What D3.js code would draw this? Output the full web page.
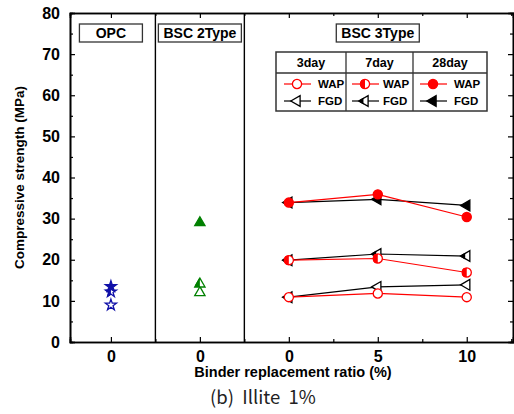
<!DOCTYPE html>
<html>
<head>
<meta charset="utf-8">
<script src="https://cdn.jsdelivr.net/npm/d3@7"></script>
<style>
  html, body { margin: 0; padding: 0; background: #fff; }
  svg { display: block; }
  text { font-family: "Liberation Sans", Arial, sans-serif; }
</style>
</head>
<body>
<svg id="chart" width="514" height="414"></svg>
<script>
// Curing ages and the binder groups
const ages = ["3day", "7day", "28day"];
const groups = ["OPC", "BSC 2Type", "BSC 3Type"];

// BSC 3Type replacement ratios (%) and their axis labels
const ratios = [0, 5, 10];
const xTickLabels = ["0", "0", "0", "5", "10"];

// OPC and BSC 2Type strengths (MPa) at 0 %, by age
const opcValues = [9.0, 12.2, 13.5];
const bsc2Values = [12.0, 14.1, 29.0];

// BSC 3Type strengths (MPa) by additive and age, over ratios 0/5/10 %
const wap3day = [10.9, 11.8, 10.9];
const wap7day = [19.9, 20.3, 16.9];
const wap28day = [33.9, 35.9, 30.4];
const fgd3day = [10.9, 13.4, 13.9];
const fgd7day = [19.9, 21.4, 20.9];
const fgd28day = [33.9, 34.7, 33.2];

const yTicks = [0, 10, 20, 30, 40, 50, 60, 70, 80];

const svg = d3.select("#chart");
const L = 70, R = 513, T = 13, B = 342;

// Positions along x: OPC=0, BSC2=1, BSC3 ratios at 2,3,4
const x = d3.scaleLinear().domain([-0.46, 4.52]).range([L, R]);
const y = d3.scaleLinear().domain([0, 80]).range([B, T]);
const ratioPos = d3.scaleOrdinal().domain(ratios).range([2, 3, 4]);

// half-fill clip shared by all half-filled markers
const defs = svg.append("defs");
defs.append("clipPath").attr("id", "leftHalf")
  .attr("clipPathUnits", "objectBoundingBox")
  .append("rect").attr("x", 0).attr("y", 0).attr("width", 0.5).attr("height", 1);

// Axes with inward ticks
const xMajor = [0, 1, 2, 3, 4];
const xMinor = [0.5, 1.5, 2.5, 3.5, 4.5];
svg.append("g").attr("transform", `translate(0,${B})`)
  .call(d3.axisBottom(x).tickValues(xMajor).tickSize(-5).tickPadding(9)
    .tickFormat((d, i) => xTickLabels[i]));
svg.append("g").attr("transform", `translate(0,${T})`)
  .call(d3.axisTop(x).tickValues(xMajor).tickSize(-5).tickFormat(""));
svg.append("g").attr("transform", `translate(${L},0)`)
  .call(d3.axisLeft(y).tickValues(yTicks).tickSize(-5).tickPadding(10));
svg.append("g").attr("transform", `translate(${R},0)`)
  .call(d3.axisRight(y).tickValues(yTicks).tickSize(-5).tickFormat(""));
svg.append("g").attr("transform", `translate(0,${B})`)
  .call(d3.axisBottom(x).tickValues(xMinor).tickSize(-3).tickFormat(""));
svg.append("g").attr("transform", `translate(0,${T})`)
  .call(d3.axisTop(x).tickValues(xMinor).tickSize(-3).tickFormat(""));
svg.append("g").attr("transform", `translate(${L},0)`)
  .call(d3.axisLeft(y).tickValues(d3.range(5, 80, 10)).tickSize(-3).tickFormat(""));
svg.append("g").attr("transform", `translate(${R},0)`)
  .call(d3.axisRight(y).tickValues(d3.range(5, 80, 10)).tickSize(-3).tickFormat(""));

svg.selectAll(".domain").attr("stroke", "#000").attr("stroke-width", 1.6);
svg.selectAll(".tick line").attr("stroke", "#000").attr("stroke-width", 1.2);
svg.selectAll(".tick text").attr("font-size", 16).attr("font-weight", "bold")
  .attr("fill", "#000").attr("font-family", "Liberation Sans, Arial, sans-serif");

// Group dividers
[0.5, 1.5].forEach(v => {
  svg.append("line").attr("x1", x(v)).attr("x2", x(v)).attr("y1", T).attr("y2", B)
    .attr("stroke", "#000").attr("stroke-width", 1.4);
});

// Group title boxes
const groupBoxes = [
  { name: groups[0], pos: 0, w: 63 },
  { name: groups[1], pos: 1, w: 83 },
  { name: groups[2], pos: 3, w: 83 }
];
groupBoxes.forEach(g => {
  svg.append("rect").attr("x", x(g.pos) - g.w / 2).attr("y", 24)
    .attr("width", g.w).attr("height", 18)
    .attr("fill", "#fff").attr("stroke", "#333").attr("stroke-width", 1.3);
  svg.append("text").attr("x", x(g.pos)).attr("y", 38)
    .attr("text-anchor", "middle").attr("font-size", 14).attr("font-weight", "bold")
    .text(g.name);
});

// Marker drawing
const fills = ["open", "half", "full"];
function marker(g, type, fill, cx, cy, color) {
  let shape;
  if (type === "circle") shape = d3.symbol(d3.symbolCircle, 66)();
  else if (type === "star") shape = d3.symbol(d3.symbolStar, 38)();
  else if (type === "up") shape = d3.symbol(d3.symbolTriangle, 46)();
  else shape = d3.symbol(d3.symbolTriangle, 50)();
  const rot = type === "left" ? " rotate(-90)" : "";
  const tr = `translate(${cx},${cy})${rot}`;
  const sw = 1.3;
  g.append("path").attr("d", shape).attr("transform", tr)
    .attr("fill", fill === "full" ? color : "#fff")
    .attr("stroke", color).attr("stroke-width", sw);
  if (fill === "half") {
    // left half filled
    const inner = g.append("g").attr("transform", `translate(${cx},${cy})`);
    const holder = inner.append("g").attr("clip-path", "url(#leftHalf)");
    holder.append("path").attr("d", shape).attr("transform", type === "left" ? "rotate(-90)" : null)
      .attr("fill", color).attr("stroke", color).attr("stroke-width", sw);
  }
}

const plot = svg.append("g");

// OPC stars and BSC 2Type triangles
opcValues.forEach((v, i) => marker(plot, "star", fills[i], x(0), y(v), "#1010a8"));
bsc2Values.forEach((v, i) => marker(plot, "up", fills[i], x(1), y(v), "#008000"));

// BSC 3Type series
const series3 = [
  { vals: fgd3day, type: "left", fill: "open", color: "#000" },
  { vals: wap3day, type: "circle", fill: "open", color: "#ff0000" },
  { vals: fgd7day, type: "left", fill: "half", color: "#000" },
  { vals: wap7day, type: "circle", fill: "half", color: "#ff0000" },
  { vals: fgd28day, type: "left", fill: "full", color: "#000" },
  { vals: wap28day, type: "circle", fill: "full", color: "#ff0000" }
];
const line = d3.line().x((d, i) => x(ratioPos(ratios[i]))).y(d => y(d));
series3.forEach(s => {
  plot.append("path").attr("d", line(s.vals)).attr("fill", "none")
    .attr("stroke", s.color).attr("stroke-width", 1.2);
});
series3.forEach(s => {
  s.vals.forEach((v, i) => marker(plot, s.type, s.fill, x(ratioPos(ratios[i])), y(v), s.color));
});

// Legend table
const lg = svg.append("g");
const tL = 276, tR = 487, tT = 52, tB = 111, tH = 73;
const colX = [tL, 346, 413, tR];
const lineStart = [8, 6, 7];
const labelStart = [42, 37, 41];
lg.append("rect").attr("x", tL).attr("y", tT).attr("width", tR - tL).attr("height", tB - tT)
  .attr("fill", "#fff").attr("stroke", "#333").attr("stroke-width", 1.5);
lg.append("line").attr("x1", tL).attr("x2", tR).attr("y1", tH).attr("y2", tH)
  .attr("stroke", "#333").attr("stroke-width", 1.3);
[1, 2].forEach(i => lg.append("line").attr("x1", colX[i]).attr("x2", colX[i])
  .attr("y1", tT).attr("y2", tB).attr("stroke", "#333").attr("stroke-width", 1.3));
ages.forEach((a, i) => {
  const cx = (colX[i] + colX[i + 1]) / 2;
  lg.append("text").attr("x", cx).attr("y", 67).attr("text-anchor", "middle")
    .attr("font-size", 12.5).attr("font-weight", "bold").text(a);
  const l0 = colX[i] + lineStart[i];
  [{ y: 84, type: "circle", color: "#ff0000", label: "WAP" },
   { y: 101, type: "left", color: "#000", label: "FGD" }].forEach(r => {
    lg.append("line").attr("x1", l0).attr("x2", l0 + 27).attr("y1", r.y).attr("y2", r.y)
      .attr("stroke", r.color).attr("stroke-width", 1.2);
    marker(lg, r.type, fills[i], l0 + 13, r.y, r.color);
    lg.append("text").attr("x", colX[i] + labelStart[i]).attr("y", r.y + 4).attr("font-size", 11.5)
      .attr("font-weight", "bold").text(r.label);
  });
});

// Axis titles and caption
svg.append("text").attr("transform", `translate(24,${(T + B) / 2}) rotate(-90)`)
  .attr("text-anchor", "middle").attr("font-size", 13.5).attr("font-weight", "bold")
  .text("Compressive strength (MPa)");
svg.append("text").attr("x", 293).attr("y", 377).attr("text-anchor", "middle")
  .attr("font-size", 14.5).attr("font-weight", "bold").text("Binder replacement ratio (%)");
svg.append("text").attr("x", 263).attr("y", 404).attr("text-anchor", "middle")
  .attr("font-size", 18.5).attr("fill", "#222")
  .style("font-family", "'Noto Sans CJK KR', 'Noto Sans', sans-serif")
  .text("(b)\u00a0 Illite\u00a0 1%");
</script>
</body>
</html>
